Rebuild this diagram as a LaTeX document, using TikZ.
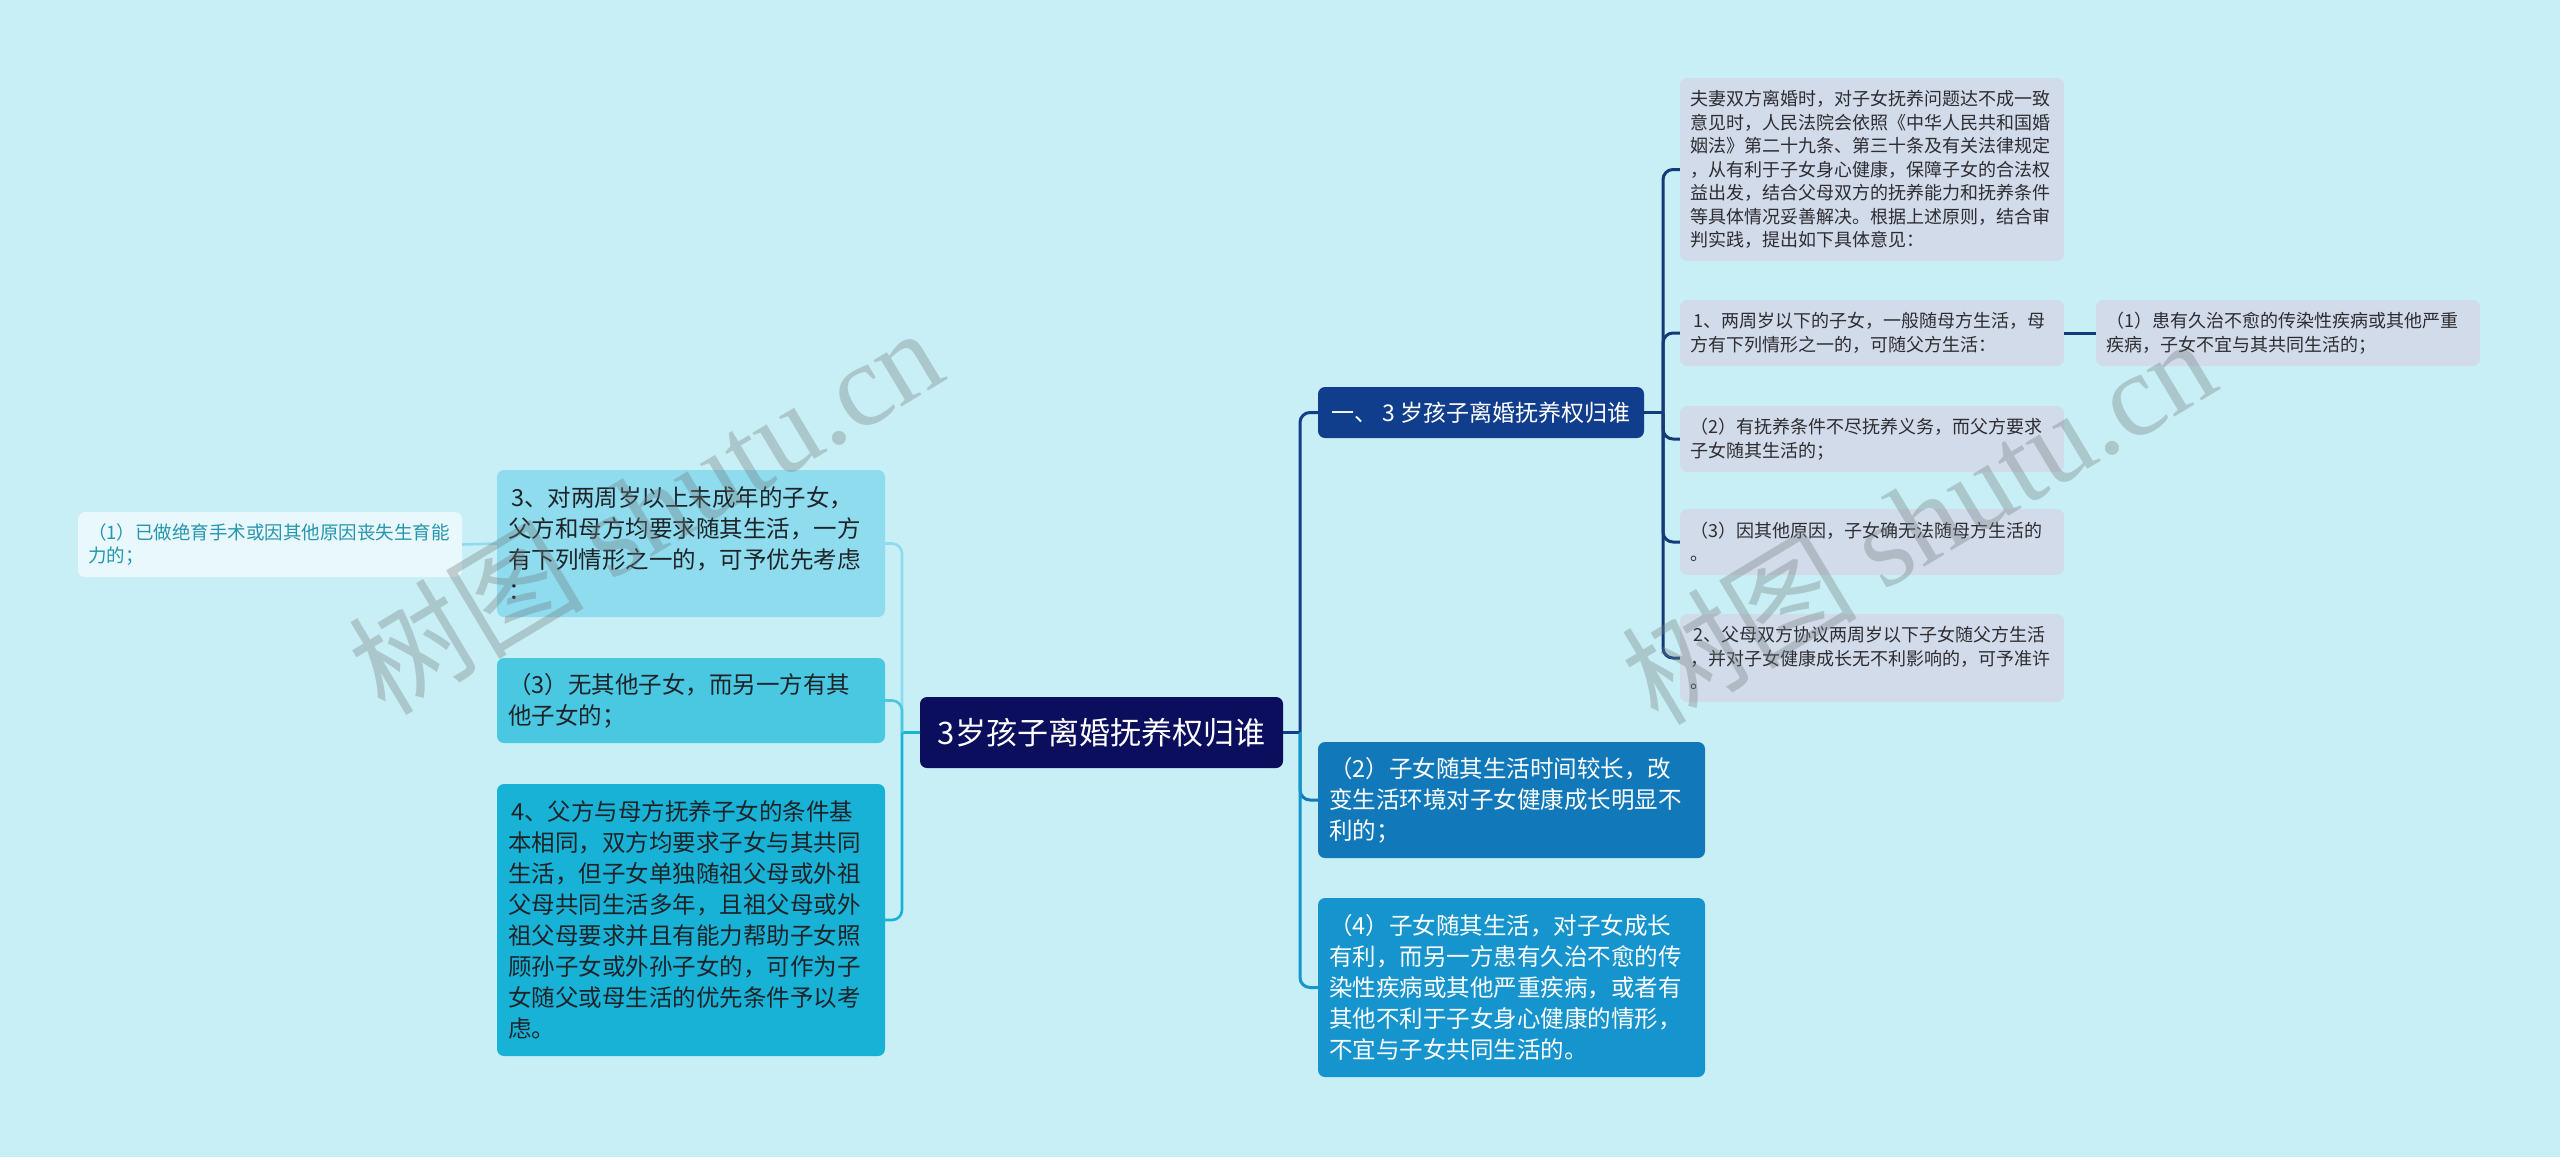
\documentclass[tikz,border=0pt]{standalone}
\usepackage{fontspec}
\setmainfont{Noto Sans CJK SC}
\newfontfamily\wmserif{Liberation Serif}
\definecolor{bgc}{RGB}{201,239,246}
\definecolor{rootc}{RGB}{10,14,92}
\definecolor{ronec}{RGB}{17,62,140}
\definecolor{leafc}{RGB}{210,219,234}
\definecolor{leaftxt}{RGB}{45,45,50}
\definecolor{gc}{RGB}{17,121,185}
\definecolor{hc}{RGB}{22,148,206}
\definecolor{ic}{RGB}{142,220,238}
\definecolor{jc}{RGB}{74,200,226}
\definecolor{kc}{RGB}{24,178,214}
\definecolor{lc}{RGB}{232,248,252}
\definecolor{ltxt}{RGB}{38,150,176}
\definecolor{navyline}{RGB}{20,58,120}
\definecolor{darktxt}{RGB}{30,35,40}
\definecolor{wmc}{RGB}{115,125,128}
\tikzset{
  box/.style={rounded corners=7pt, inner ysep=0pt, anchor=center, align=left},
  rleaf/.style={box, fill=leafc, text=leaftxt, font=\fontsize{18}{23.5}\selectfont,
    inner xsep=10pt, text width=364pt, minimum height=66pt},
  bigbox/.style={box, font=\fontsize{23.5}{31}\selectfont, inner xsep=11pt, text width=366pt},
  conn/.style={line width=3pt, rounded corners=10pt},
  wm/.style={rotate=31, text=wmc, opacity=0.35, font=\fontsize{118}{118}\selectfont}
}
\begin{document}
\begin{tikzpicture}[x=1pt,y=-1pt]
\fill[bgc] (0,0) rectangle (2560,1157);
\useasboundingbox (0,0) rectangle (2560,1157);

% root
\node[box, fill=rootc, text=white, font=\fontsize{31}{36}\selectfont, minimum width=363pt, minimum height=71pt, inner xsep=0pt, align=center] (root) at (1101.5,732.5) {3岁孩子离婚抚养权归谁};

% right level 1
\node[box, fill=ronec, text=white, font=\fontsize{23}{28}\selectfont, minimum width=326pt, minimum height=51pt, inner xsep=0pt, align=center] (r1) at (1481,412.5) {一、 3 岁孩子离婚抚养权归谁};
\node[bigbox, fill=gc, text=white, minimum height=116pt, text width=365pt] (g) at (1511.5,800) {（2）子女随其生活时间较长，改\\变生活环境对子女健康成长明显不\\利的；};
\node[bigbox, fill=hc, text=white, minimum height=179pt, text width=365pt] (h) at (1511.5,987.5) {（4）子女随其生活，对子女成长\\有利，而另一方患有久治不愈的传\\染性疾病或其他严重疾病，或者有\\其他不利于子女身心健康的情形，\\不宜与子女共同生活的。};

% right leaves
\node[rleaf, minimum height=183pt] (a) at (1872,169.5) {夫妻双方离婚时，对子女抚养问题达不成一致\\意见时，人民法院会依照《中华人民共和国婚\\姻法》第二十九条、第三十条及有关法律规定\\，从有利于子女身心健康，保障子女的合法权\\益出发，结合父母双方的抚养能力和抚养条件\\等具体情况妥善解决。根据上述原则，结合审\\判实践，提出如下具体意见：};
\node[rleaf] (b) at (1872,333) {\hspace*{3pt}1、两周岁以下的子女，一般随母方生活，母\\方有下列情形之一的，可随父方生活：};
\node[rleaf] (c) at (2288,333) {（1）患有久治不愈的传染性疾病或其他严重\\疾病，子女不宜与其共同生活的；};
\node[rleaf] (d) at (1872,439) {（2）有抚养条件不尽抚养义务，而父方要求\\子女随其生活的；};
\node[rleaf] (e) at (1872,542) {（3）因其他原因，子女确无法随母方生活的\\。};
\node[rleaf, minimum height=88pt] (f) at (1872,658) {\hspace*{3pt}2、父母双方协议两周岁以下子女随父方生活\\，并对子女健康成长无不利影响的，可予准许\\。};

% left
\node[bigbox, fill=ic, text=darktxt, minimum height=147pt] (i) at (691,543.5) {\hspace*{3pt}3、对两周岁以上未成年的子女，\\父方和母方均要求随其生活，一方\\有下列情形之一的，可予优先考虑\\：};
\node[bigbox, fill=jc, text=darktxt, minimum height=85pt] (j) at (691,700.5) {（3）无其他子女，而另一方有其\\他子女的；};
\node[bigbox, fill=kc, text=darktxt, minimum height=272pt] (k) at (691,920) {\hspace*{3pt}4、父方与母方抚养子女的条件基\\本相同，双方均要求子女与其共同\\生活，但子女单独随祖父母或外祖\\父母共同生活多年，且祖父母或外\\祖父母要求并且有能力帮助子女照\\顾孙子女或外孙子女的，可作为子\\女随父或母生活的优先条件予以考\\虑。};
\node[box, fill=lc, text=ltxt, font=\fontsize{18.5}{23}\selectfont, inner xsep=10pt, text width=364pt, minimum height=65pt] (l) at (270,544.5) {（1）已做绝育手术或因其他原因丧失生育能\\力的；};

% trunk coordinates
\coordinate (tr) at (1300,732.5);
\coordinate (tl) at (902,732.5);
\coordinate (t1) at (1663,412.5);

% connectors right of root
\draw[conn, color=ronec] (root.east) -- (tr);
\draw[conn, color=ronec] (tr) |- (r1.west);
\draw[conn, color=gc] (tr) |- (g.west);
\draw[conn, color=hc] (tr) |- (h.west);

% connectors from r1
\draw[conn, color=navyline] (r1.east) -- (t1);
\foreach \n in {a,b,d,e,f} { \draw[conn, color=navyline] (t1) |- (\n.west); }
\draw[conn, color=navyline] (b.east) -- (c.west);

% left connectors
\draw[conn, line width=2.6pt, color=kc] (root.west) -- (tl);
\draw[conn, line width=2.6pt, color=ic] (tl) |- (i.east);
\draw[conn, line width=2.6pt, color=jc] (tl) |- (j.east);
\draw[conn, line width=2.6pt, color=kc] (tl) |- (k.east);
\draw[line width=2.6pt, color=ic] (i.west) -- (l.east);

% watermarks
\node[wm] (wm1) at (645,509) {树图 {\wmserif shutu.cn}};
\node[wm] (wm2) at (1918,519) {树图 {\wmserif shutu.cn}};
\end{tikzpicture}
\end{document}
